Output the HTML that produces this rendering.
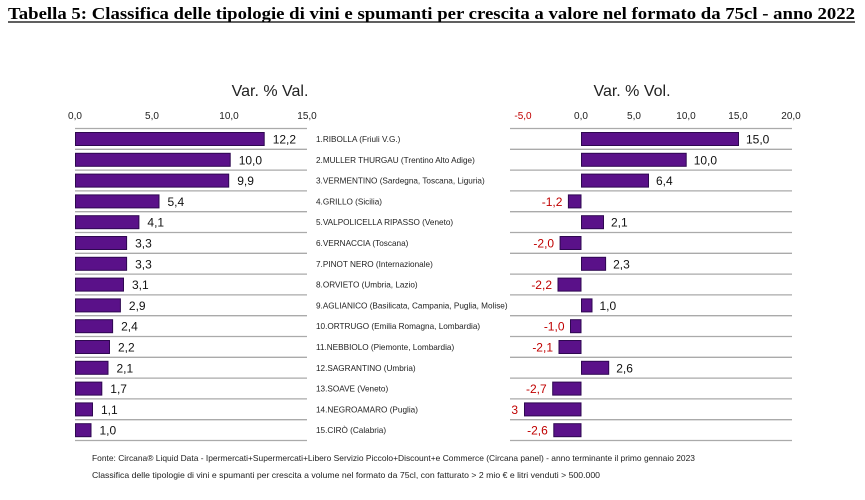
<!DOCTYPE html>
<html><head><meta charset="utf-8"><style>
html,body{margin:0;padding:0;background:#fff;}
svg{display:block;}
</style></head><body>
<svg width="865" height="500" xmlns="http://www.w3.org/2000/svg">
<text x="8" y="19" font-family="Liberation Serif, serif" font-weight="bold" font-size="17" textLength="847" lengthAdjust="spacingAndGlyphs" fill="#000">Tabella 5:  Classifica delle tipologie di vini e spumanti per crescita  a valore nel formato da 75cl -  anno 2022</text>
<line x1="8" y1="22" x2="855" y2="22" stroke="#000" stroke-width="1.2"/>
<g font-family="Liberation Sans, sans-serif">
<text x="270" y="96" font-size="16" text-anchor="middle" fill="#222">Var. % Val.</text>
<text x="632" y="96" font-size="16" text-anchor="middle" fill="#222">Var. % Vol.</text>
<g font-size="10" fill="#222" text-anchor="middle">
<text x="75" y="119">0,0</text><text x="152" y="119">5,0</text><text x="229" y="119">10,0</text><text x="307" y="119">15,0</text>
<text x="523" y="119" fill="#c00000">-5,0</text><text x="581" y="119">0,0</text><text x="634" y="119">5,0</text><text x="686" y="119">10,0</text><text x="738" y="119">15,0</text><text x="791" y="119">20,0</text>
</g>
<g stroke="#aaa" stroke-width="1.3">
<path d="M75 128.5H307M75 149.3H307M75 170.1H307M75 190.9H307M75 211.7H307M75 232.5H307M75 253.3H307M75 274.1H307M75 294.9H307M75 315.7H307M75 336.5H307M75 357.3H307M75 378.1H307M75 398.9H307M75 419.7H307M75 440.5H307"/>
<path d="M510 128.5H792M510 149.3H792M510 170.1H792M510 190.9H792M510 211.7H792M510 232.5H792M510 253.3H792M510 274.1H792M510 294.9H792M510 315.7H792M510 336.5H792M510 357.3H792M510 378.1H792M510 398.9H792M510 419.7H792M510 440.5H792"/>
</g>
<g fill="#5a1189" stroke="#2e0850" stroke-width="1">
<rect x="75.5" y="132.5" width="188.7" height="13"/>
<rect x="75.5" y="153.3" width="154.7" height="13"/>
<rect x="75.5" y="174.1" width="153.2" height="13"/>
<rect x="75.5" y="194.9" width="83.5" height="13"/>
<rect x="75.5" y="215.7" width="63.4" height="13"/>
<rect x="75.5" y="236.5" width="51.1" height="13"/>
<rect x="75.5" y="257.3" width="51.1" height="13"/>
<rect x="75.5" y="278.1" width="48" height="13"/>
<rect x="75.5" y="298.9" width="44.9" height="13"/>
<rect x="75.5" y="319.7" width="37.1" height="13"/>
<rect x="75.5" y="340.5" width="34" height="13"/>
<rect x="75.5" y="361.3" width="32.5" height="13"/>
<rect x="75.5" y="382.1" width="26.3" height="13"/>
<rect x="75.5" y="402.9" width="17" height="13"/>
<rect x="75.5" y="423.7" width="15.5" height="13"/>

<rect x="581.5" y="132.5" width="157" height="13"/>
<rect x="581.5" y="153.3" width="104.7" height="13"/>
<rect x="581.5" y="174.1" width="67" height="13"/>
<rect x="568.4" y="194.9" width="12.6" height="13"/>
<rect x="581.5" y="215.7" width="22" height="13"/>
<rect x="560.1" y="236.5" width="20.9" height="13"/>
<rect x="581.5" y="257.3" width="24.1" height="13"/>
<rect x="558" y="278.1" width="23" height="13"/>
<rect x="581.5" y="298.9" width="10.5" height="13"/>
<rect x="570.5" y="319.7" width="10.5" height="13"/>
<rect x="559" y="340.5" width="22" height="13"/>
<rect x="581.5" y="361.3" width="27.2" height="13"/>
<rect x="552.7" y="382.1" width="28.3" height="13"/>
<rect x="524.5" y="402.9" width="56.5" height="13"/>
<rect x="553.8" y="423.7" width="27.2" height="13"/>
</g>
<g font-size="12" fill="#111">
<text x="272.7" y="143.5">12,2</text>
<text x="238.7" y="164.3">10,0</text>
<text x="237.2" y="185.1">9,9</text>
<text x="167.5" y="205.9">5,4</text>
<text x="147.4" y="226.7">4,1</text>
<text x="135.1" y="247.5">3,3</text>
<text x="135.1" y="268.3">3,3</text>
<text x="132" y="289.1">3,1</text>
<text x="128.9" y="309.9">2,9</text>
<text x="121.1" y="330.7">2,4</text>
<text x="118" y="351.5">2,2</text>
<text x="116.5" y="372.3">2,1</text>
<text x="110.3" y="393.1">1,7</text>
<text x="101" y="413.9">1,1</text>
<text x="99.5" y="434.7">1,0</text>

<text x="746" y="143.5">15,0</text>
<text x="693.7" y="164.3">10,0</text>
<text x="656" y="185.1">6,4</text>
<text x="611" y="226.7">2,1</text>
<text x="613.1" y="268.3">2,3</text>
<text x="599.5" y="309.9">1,0</text>
<text x="616.2" y="372.3">2,6</text>
</g>
<g font-size="12" fill="#c00000" text-anchor="end">
<text x="562.4" y="205.9">-1,2</text>
<text x="554.1" y="247.5">-2,0</text>
<text x="552" y="289.1">-2,2</text>
<text x="564.5" y="330.7">-1,0</text>
<text x="553" y="351.5">-2,1</text>
<text x="546.7" y="393.1">-2,7</text>
<text x="518" y="413.9">3</text>
<text x="547.8" y="434.7">-2,6</text>
</g>
<g font-size="8.2" fill="#222">
<text x="316" y="142">1.RIBOLLA (Friuli V.G.)</text>
<text x="316" y="162.8">2.MULLER THURGAU (Trentino Alto Adige)</text>
<text x="316" y="183.6">3.VERMENTINO (Sardegna, Toscana, Liguria)</text>
<text x="316" y="204.4">4.GRILLO (Sicilia)</text>
<text x="316" y="225.2">5.VALPOLICELLA RIPASSO (Veneto)</text>
<text x="316" y="246">6.VERNACCIA (Toscana)</text>
<text x="316" y="266.8">7.PINOT NERO (Internazionale)</text>
<text x="316" y="287.6">8.ORVIETO (Umbria, Lazio)</text>
<text x="316" y="308.4">9.AGLIANICO (Basilicata, Campania, Puglia, Molise)</text>
<text x="316" y="329.2">10.ORTRUGO (Emilia Romagna, Lombardia)</text>
<text x="316" y="350">11.NEBBIOLO (Piemonte, Lombardia)</text>
<text x="316" y="370.8">12.SAGRANTINO (Umbria)</text>
<text x="316" y="391.6">13.SOAVE (Veneto)</text>
<text x="316" y="412.4">14.NEGROAMARO (Puglia)</text>
<text x="316" y="433.2">15.CIRÒ (Calabria)</text>
</g>
</g>
<g font-family="Liberation Sans, sans-serif" font-size="8.5" fill="#222">
<text x="92" y="461" textLength="603" lengthAdjust="spacingAndGlyphs">Fonte: Circana® Liquid Data - Ipermercati+Supermercati+Libero Servizio Piccolo+Discount+e Commerce (Circana panel) - anno terminante il primo gennaio 2023</text>
<text x="92" y="478" textLength="508" lengthAdjust="spacingAndGlyphs">Classifica delle tipologie di vini e spumanti per crescita  a volume nel formato da 75cl, con fatturato &gt; 2 mio € e litri venduti &gt; 500.000</text>
</g>
</svg>
</body></html>
